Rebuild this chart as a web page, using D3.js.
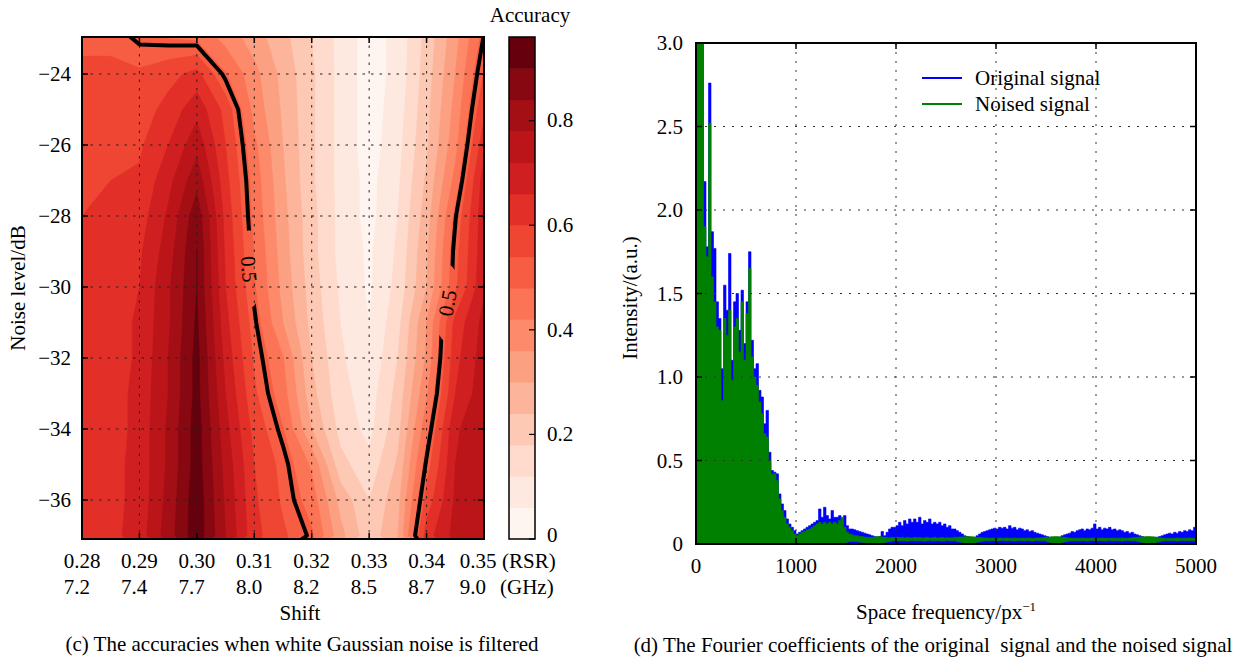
<!DOCTYPE html>
<html><head><meta charset="utf-8">
<script src="https://cdn.jsdelivr.net/npm/d3@7"></script>
<style>
body{margin:0;background:#fff}
text{font-family:"Liberation Serif","Times New Roman",serif;font-size:21px;fill:#000}
</style>
</head><body>
<svg id="c" width="1244" height="661"></svg>
<script>
// ---------------- DATA: panel (c) ----------------
const shiftValues = [0.28,0.285,0.29,0.295,0.30,0.305,0.31,0.315,0.32,0.325,0.33,0.335,0.34,0.345,0.35];
const noiseValues = [-23,-24,-25,-26,-27,-28,-29,-30,-31,-32,-33,-34,-35,-36,-37];
// accuracy[row = noise level][col = shift]
const accuracy = [
 [0.53,0.53,0.49,0.48,0.47,0.40,0.33,0.26,0.18,0.10,0.03,0.08,0.20,0.34,0.505],
 [0.55,0.55,0.55,0.58,0.62,0.484,0.38,0.28,0.19,0.10,0.03,0.08,0.21,0.36,0.544],
 [0.56,0.56,0.57,0.62,0.70,0.58,0.398,0.29,0.19,0.10,0.03,0.09,0.22,0.38,0.587],
 [0.57,0.58,0.59,0.66,0.76,0.60,0.433,0.30,0.19,0.10,0.03,0.10,0.23,0.40,0.638],
 [0.59,0.60,0.61,0.70,0.82,0.62,0.453,0.31,0.19,0.10,0.04,0.11,0.25,0.44,0.69],
 [0.60,0.60,0.63,0.73,0.88,0.64,0.461,0.32,0.20,0.10,0.04,0.12,0.27,0.495,0.70],
 [0.60,0.61,0.65,0.75,0.90,0.65,0.476,0.33,0.20,0.10,0.05,0.13,0.29,0.518,0.70],
 [0.60,0.62,0.66,0.77,0.90,0.66,0.486,0.34,0.21,0.11,0.05,0.14,0.30,0.527,0.71],
 [0.61,0.63,0.67,0.77,0.91,0.68,0.51,0.36,0.22,0.12,0.06,0.16,0.36,0.62,0.74],
 [0.62,0.63,0.67,0.78,0.92,0.70,0.53,0.423,0.24,0.13,0.07,0.18,0.37,0.641,0.75],
 [0.62,0.63,0.68,0.78,0.92,0.72,0.55,0.446,0.26,0.14,0.09,0.20,0.41,0.66,0.76],
 [0.63,0.63,0.68,0.79,0.93,0.74,0.58,0.482,0.30,0.16,0.10,0.22,0.46,0.71,0.77],
 [0.63,0.64,0.68,0.79,0.93,0.76,0.60,0.52,0.409,0.20,0.14,0.25,0.51,0.72,0.77],
 [0.64,0.64,0.68,0.80,0.94,0.77,0.61,0.53,0.451,0.28,0.18,0.28,0.562,0.73,0.78],
 [0.64,0.64,0.69,0.81,0.94,0.78,0.62,0.55,0.49,0.32,0.20,0.30,0.633,0.74,0.78]
];
const rsrTicks = [0.28,0.29,0.30,0.31,0.32,0.33,0.34,0.35];
const rsrLabels = ["0.28","0.29","0.30","0.31","0.32","0.33","0.34","0.35"];
const ghzLabels = ["7.2","7.4","7.7","8.0","8.2","8.5","8.7","9.0"];
const noiseTicks = [-24,-26,-28,-30,-32,-34,-36];
const accuracyLevels = [0,0.06,0.12,0.18,0.24,0.30,0.36,0.42,0.48,0.54,0.60,0.66,0.72,0.78,0.84,0.90,0.96];
const colorbarTicks = [0,0.2,0.4,0.6,0.8];
const contourLevel = 0.5;
const contourLabels = [{shift:0.3091, noise:-29.5, angle:85},{shift:0.3436, noise:-30.45, angle:-80}];

// ---------------- DATA: panel (d) ----------------
const freqStep = 25; // value i is at frequency i*freqStep, 0..5000
const freqTicks = [0,1000,2000,3000,4000,5000];
const intensityTicks = [0,0.5,1.0,1.5,2.0,2.5,3.0];
const originalHigh = [
 3.2,3.2,3.2,2.17, 1.78,2.76,1.87,1.77, 1.45,1.35,1.05,1.55, 1.4,1.74,1.1,1.45, 1.5,1.28,1.52,1.2,
 1.45,1.75,1.22,1.05, 1.08,0.92,0.88,0.72, 0.8,0.55,0.44,0.43, 0.42,0.3,0.24,0.2, 0.15,0.12,0.1,0.08,
 0.06,0.07,0.08,0.09, 0.10,0.11,0.12,0.13, 0.14,0.21,0.16,0.22, 0.17,0.15,0.20,0.16, 0.16,0.17,0.15,0.17,
 0.11,0.09,0.09,0.085, 0.08,0.075,0.07,0.065, 0.06,0.055,0.05,0.045, 0.04,0.045,0.075,0.05, 0.07,0.09,0.10,0.10,
 0.11,0.13,0.11,0.14, 0.12,0.15,0.13,0.15, 0.13,0.16,0.12,0.14, 0.13,0.15,0.12,0.13, 0.12,0.13,0.11,0.12,
 0.10,0.11,0.09,0.09, 0.08,0.07,0.06,0.05, 0.045,0.04,0.035,0.04, 0.05,0.06,0.07,0.075, 0.08,0.085,0.09,0.095,
 0.09,0.10,0.095,0.10, 0.09,0.11,0.095,0.10, 0.085,0.095,0.09,0.08, 0.085,0.075,0.08,0.07, 0.065,0.06,0.055,0.05,
 0.045,0.04,0.04,0.035, 0.035,0.04,0.05,0.055, 0.06,0.065,0.075,0.07, 0.08,0.085,0.09,0.08, 0.09,0.085,0.095,0.12,
 0.09,0.10,0.085,0.095, 0.09,0.10,0.085,0.09, 0.08,0.085,0.08,0.07, 0.075,0.065,0.07,0.06, 0.055,0.05,0.045,0.04,
 0.04,0.035,0.035,0.04, 0.04,0.045,0.05,0.055, 0.06,0.065,0.06,0.07, 0.065,0.075,0.07,0.08, 0.075,0.085,0.08,0.10,
 0.10
];
const noisedHigh = [
 3.2,3.2,3.2,1.9, 1.72,2.52,1.6,1.45, 1.3,1.28,0.86,1.35, 1.25,1.4,0.98,1.3, 1.35,1.15,1.45,1.1,
 1.38,1.65,1.12,1.0, 0.95,0.85,0.78,0.66, 0.64,0.5,0.42,0.42, 0.38,0.27,0.2,0.16, 0.12,0.1,0.08,0.06,
 0.05,0.06,0.07,0.075, 0.085,0.09,0.10,0.11, 0.12,0.13,0.12,0.13, 0.12,0.13,0.12,0.13, 0.12,0.14,0.16,0.10,
 0.07,0.06,0.055,0.05, 0.05,0.045,0.045,0.042, 0.04,0.04,0.04,0.042, 0.045,0.045,0.042,0.04, 0.04,0.038,0.04,0.038,
 0.04,0.038,0.04,0.036, 0.04,0.038,0.036,0.04, 0.038,0.04,0.036,0.038, 0.04,0.036,0.038,0.04, 0.036,0.038,0.04,0.036,
 0.038,0.036,0.038,0.04, 0.04,0.042,0.042,0.044, 0.045,0.045,0.044,0.042, 0.04,0.04,0.038,0.036,
 0.036,0.035,0.036,0.034, 0.035,0.036,0.034,0.035, 0.036,0.034,0.035,0.036, 0.034,0.035,0.036,0.034, 0.035,0.036,0.034,0.035, 0.036,0.036,0.038,0.04,
 0.04,0.042,0.044,0.045, 0.045,0.044,0.042,0.04, 0.038,0.036,0.035,0.034,
 0.035,0.034,0.036,0.034, 0.035,0.034,0.036,0.035, 0.034,0.035,0.036,0.034, 0.035,0.034,0.036,0.035, 0.034,0.035,0.036,0.034, 0.035,0.036,0.038,0.04,
 0.04,0.042,0.043,0.044, 0.045,0.045,0.044,0.042, 0.04,0.038,0.036,0.035,
 0.034,0.035,0.034,0.035, 0.036,0.034,0.035,0.034, 0.035,0.036,0.034,0.035,
 0.035
];
const noisedLow = [
 0,0,0,0, 0,0,0,0, 0,0,0,0, 0,0,0,0, 0,0,0,0, 0,0,0,0, 0,0,0,0, 0,0,0,0, 0,0,0,0, 0,0,0,0,
 0,0,0,0, 0,0,0,0, 0,0,0,0, 0,0,0,0, 0,0,0,0,
 0.01,0.015,0.015,0.015, 0.015,0.01,0.01,0.008, 0.006,0.004,0.002,0, 0,0.002,0.005,0.008, 0.012,0.015,0.018,0.02,
 0.02,0.019,0.021,0.02, 0.018,0.02,0.022,0.02, 0.019,0.021,0.02,0.018, 0.02,0.022,0.02,0.019, 0.021,0.02,0.018,0.02, 0.022,0.02,0.019,0.02,
 0.015,0.012,0.008,0.004, 0.002,0,0.002,0.005, 0.01,0.014,0.017,0.02,
 0.02,0.019,0.021,0.02, 0.018,0.02,0.022,0.02, 0.019,0.021,0.02,0.018, 0.02,0.022,0.02,0.019, 0.021,0.02,0.018,0.02, 0.022,0.02,0.019,0.02,
 0.014,0.01,0.006,0.003, 0,0.003,0.007,0.012, 0.016,0.02,0.02,0.02,
 0.02,0.019,0.021,0.02, 0.018,0.02,0.022,0.02, 0.019,0.021,0.02,0.018, 0.02,0.022,0.02,0.019, 0.021,0.02,0.018,0.02, 0.022,0.02,0.019,0.02,
 0.016,0.012,0.008,0.004, 0.002,0,0.002,0.006, 0.01,0.014,0.018,0.02,
 0.02,0.019,0.021,0.02, 0.018,0.02,0.022,0.02, 0.019,0.021,0.02,0.018,
 0.02
];

// ---------------- DRAW ----------------
const svg = d3.select("#c");
const defs = svg.append("defs");

// ===== Panel (c) =====
const L = {x0:82, x1:484, y0:37, y1:539};
const xL = d3.scaleLinear().domain([shiftValues[0], shiftValues[shiftValues.length-1]]).range([L.x0, L.x1]);
const yL = d3.scaleLinear().domain([noiseValues[0], noiseValues[noiseValues.length-1]]).range([38.5, 535.5]);

defs.append("clipPath").attr("id","clipL").append("rect")
  .attr("x",L.x0).attr("y",L.y0).attr("width",L.x1-L.x0).attr("height",L.y1-L.y0);

const nx = shiftValues.length, ny = noiseValues.length;
const gridVals = accuracy.flat();
const sStep = shiftValues[1]-shiftValues[0], nStep = noiseValues[1]-noiseValues[0];
const proj = d3.geoTransform({point(x,y){
  this.stream.point(xL(shiftValues[0]+(x-0.5)*sStep), yL(noiseValues[0]+(y-0.5)*nStep));
}});
const gpath = d3.geoPath(proj);
const nBands = accuracyLevels.length-1;
const bandColor = k => d3.interpolateReds(k/(nBands-1));

const fills = d3.contours().size([nx,ny]).thresholds(accuracyLevels.slice(0,-1))(gridVals);
const gL = svg.append("g");
gL.append("g").attr("clip-path","url(#clipL)")
  .selectAll("path").data(fills).join("path")
  .attr("d", gpath).attr("fill",(d,i)=>bandColor(i)).attr("stroke",(d,i)=>bandColor(i)).attr("stroke-width",0.5);

// grid
const gridL = gL.append("g").attr("stroke","#222").attr("stroke-width",1).attr("stroke-dasharray","2.5,6");
gridL.selectAll("line.v").data(rsrTicks.slice(1,-1)).join("line")
  .attr("x1",d=>xL(d)).attr("x2",d=>xL(d)).attr("y1",L.y0).attr("y2",L.y1);
gridL.selectAll("line.h").data(noiseTicks).join("line")
  .attr("y1",d=>yL(d)).attr("y2",d=>yL(d)).attr("x1",L.x0).attr("x2",L.x1);

// contour line 0.5 with gaps for labels
const mask = defs.append("mask").attr("id","lblMask").attr("maskUnits","userSpaceOnUse")
  .attr("x",0).attr("y",0).attr("width",1244).attr("height",661);
mask.append("rect").attr("x",0).attr("y",0).attr("width",1244).attr("height",661).attr("fill","#fff");
contourLabels.forEach(c=>{
  mask.append("ellipse").attr("cx",xL(c.shift)).attr("cy",yL(c.noise)).attr("rx",14).attr("ry",39).attr("fill","#000");
});
const iso = d3.contours().size([nx,ny]).thresholds([contourLevel])(gridVals);
gL.append("g").attr("clip-path","url(#clipL)").append("g").attr("mask","url(#lblMask)")
  .selectAll("path").data(iso).join("path")
  .attr("d",gpath).attr("fill","none").attr("stroke","#000").attr("stroke-width",4).attr("stroke-linejoin","round");
contourLabels.forEach(c=>{
  gL.append("text").attr("transform",`translate(${xL(c.shift)},${yL(c.noise)}) rotate(${c.angle})`)
    .attr("text-anchor","middle").attr("dy","0.35em").text(d3.format(".1f")(contourLevel));
});

// ticks inside
const tkL = gL.append("g").attr("stroke","#000").attr("stroke-width",1.5);
rsrTicks.forEach(t=>{
  tkL.append("line").attr("x1",xL(t)).attr("x2",xL(t)).attr("y1",L.y0).attr("y2",L.y0+6);
  tkL.append("line").attr("x1",xL(t)).attr("x2",xL(t)).attr("y1",L.y1).attr("y2",L.y1-6);
});
noiseTicks.forEach(t=>{
  tkL.append("line").attr("y1",yL(t)).attr("y2",yL(t)).attr("x1",L.x0).attr("x2",L.x0+6);
  tkL.append("line").attr("y1",yL(t)).attr("y2",yL(t)).attr("x1",L.x1).attr("x2",L.x1-6);
});
gL.append("rect").attr("x",L.x0).attr("y",L.y0).attr("width",L.x1-L.x0).attr("height",L.y1-L.y0)
  .attr("fill","none").attr("stroke","#000").attr("stroke-width",2);

// tick labels
noiseTicks.forEach(t=>{
  gL.append("text").attr("x",L.x0-11).attr("y",yL(t)).attr("dy","0.35em").attr("text-anchor","end").text(d3.format("d")(t));
});
rsrTicks.forEach((t,i)=>{
  const cx = xL(t) + (i===rsrTicks.length-1 ? -6 : 0);
  const t1 = gL.append("text").attr("x",cx).attr("y",568).attr("text-anchor","middle").text(rsrLabels[i]);
  const w = t1.node().getComputedTextLength();
  gL.append("text").attr("x",cx-w/2).attr("y",594).text(ghzLabels[i]);
});
gL.append("text").attr("x",502).attr("y",568).text("(RSR)");
gL.append("text").attr("x",500).attr("y",594).text("(GHz)");
gL.append("text").attr("x",300).attr("y",620).attr("text-anchor","middle").text("Shift");
gL.append("text").attr("transform","translate(25,288) rotate(-90)").attr("text-anchor","middle").text("Noise level/dB");
gL.append("text").attr("x",302).attr("y",651).attr("text-anchor","middle").text("(c) The accuracies when white Gaussian noise is filtered");

// colorbar
const CB = {x0:509, x1:535, y0:37, y1:539};
const cbScale = d3.scaleLinear().domain([accuracyLevels[0], accuracyLevels[accuracyLevels.length-1]]).range([CB.y1, CB.y0]);
const gCB = svg.append("g");
gCB.selectAll("rect.band").data(d3.range(nBands)).join("rect")
  .attr("x",CB.x0).attr("width",CB.x1-CB.x0)
  .attr("y",k=>cbScale(accuracyLevels[k+1])).attr("height",k=>cbScale(accuracyLevels[k])-cbScale(accuracyLevels[k+1])+0.5)
  .attr("fill",k=>bandColor(k));
colorbarTicks.forEach(t=>{
  gCB.append("line").attr("x1",CB.x1-6).attr("x2",CB.x1).attr("y1",cbScale(t)).attr("y2",cbScale(t)).attr("stroke","#000").attr("stroke-width",1.2);
  gCB.append("text").attr("x",547).attr("y",cbScale(t)).attr("dy",t===0?"0.15em":"0.32em").text(t===0?"0":d3.format(".1f")(t));
});
gCB.append("rect").attr("x",CB.x0).attr("y",CB.y0).attr("width",CB.x1-CB.x0).attr("height",CB.y1-CB.y0)
  .attr("fill","none").attr("stroke","#000").attr("stroke-width",1.5);
gCB.append("text").attr("x",530).attr("y",22).attr("text-anchor","middle").text("Accuracy");

// ===== Panel (d) =====
const R = {x0:696, x1:1196, y0:43, y1:544};
const xR = d3.scaleLinear().domain([freqTicks[0], freqTicks[freqTicks.length-1]]).range([R.x0, R.x1]);
const yR = d3.scaleLinear().domain([intensityTicks[0], intensityTicks[intensityTicks.length-1]]).range([R.y1, R.y0]);
defs.append("clipPath").attr("id","clipR").append("rect")
  .attr("x",R.x0).attr("y",R.y0).attr("width",R.x1-R.x0).attr("height",R.y1-R.y0);
const gR = svg.append("g");
const areaOrig = d3.area().x((d,i)=>xR(i*freqStep)).y0(()=>yR(0)).y1(d=>yR(d)).curve(d3.curveStepAfter);
const areaNoise = d3.area().x((d,i)=>xR(i*freqStep)).y0((d,i)=>yR(noisedLow[i])).y1(d=>yR(d)).curve(d3.curveStepAfter);
const gData = gR.append("g").attr("clip-path","url(#clipR)");
gData.append("path").datum(originalHigh).attr("d",areaOrig).attr("fill","#0000ff").attr("stroke","#0000ff").attr("stroke-width",0.6);
gData.append("path").datum(noisedHigh).attr("d",areaNoise).attr("fill","#008000").attr("stroke","#008000").attr("stroke-width",0.6);

const gridR = gR.append("g").attr("stroke","#333").attr("stroke-width",1).attr("stroke-dasharray","2,7");
gridR.selectAll("line.v").data(freqTicks.slice(1,-1)).join("line")
  .attr("x1",d=>xR(d)).attr("x2",d=>xR(d)).attr("y1",R.y0).attr("y2",R.y1);
gridR.selectAll("line.h").data(intensityTicks.slice(1,-1)).join("line")
  .attr("y1",d=>yR(d)).attr("y2",d=>yR(d)).attr("x1",R.x0).attr("x2",R.x1);
const tkR = gR.append("g").attr("stroke","#000").attr("stroke-width",1.5);
freqTicks.forEach(t=>{
  tkR.append("line").attr("x1",xR(t)).attr("x2",xR(t)).attr("y1",R.y0).attr("y2",R.y0+6);
  tkR.append("line").attr("x1",xR(t)).attr("x2",xR(t)).attr("y1",R.y1).attr("y2",R.y1-6);
});
intensityTicks.forEach(t=>{
  tkR.append("line").attr("y1",yR(t)).attr("y2",yR(t)).attr("x1",R.x0).attr("x2",R.x0+6);
  tkR.append("line").attr("y1",yR(t)).attr("y2",yR(t)).attr("x1",R.x1).attr("x2",R.x1-6);
});
gR.append("rect").attr("x",R.x0).attr("y",R.y0).attr("width",R.x1-R.x0).attr("height",R.y1-R.y0)
  .attr("fill","none").attr("stroke","#000").attr("stroke-width",2);
intensityTicks.forEach(t=>{
  gR.append("text").attr("x",683).attr("y",yR(t)).attr("dy","0.35em").attr("text-anchor","end").text(t===0?"0":d3.format(".1f")(t));
});
freqTicks.forEach(t=>{
  gR.append("text").attr("x",xR(t)).attr("y",573).attr("text-anchor","middle").text(d3.format("d")(t));
});
const xt = gR.append("text").attr("x",946).attr("y",619).attr("text-anchor","middle");
xt.append("tspan").text("Space frequency/px");
xt.append("tspan").attr("dy",-8).attr("font-size",13).text("\u22121");
gR.append("text").attr("transform","translate(637,298) rotate(-90)").attr("text-anchor","middle").text("Intensity/(a.u.)");
gR.append("text").attr("x",933).attr("y",652).attr("text-anchor","middle").style("white-space","pre").text("(d) The Fourier coefficients of the original  signal and the noised signal");

// legend
const legend = [{name:"Original signal", color:"#0000ff"},{name:"Noised signal", color:"#008000"}];
legend.forEach((s,i)=>{
  const y = 78 + i*26;
  gR.append("line").attr("x1",922).attr("x2",962).attr("y1",y).attr("y2",y).attr("stroke",s.color).attr("stroke-width",2);
  gR.append("text").attr("x",975).attr("y",y).attr("dy","0.35em").text(s.name);
});
</script>
</body></html>
